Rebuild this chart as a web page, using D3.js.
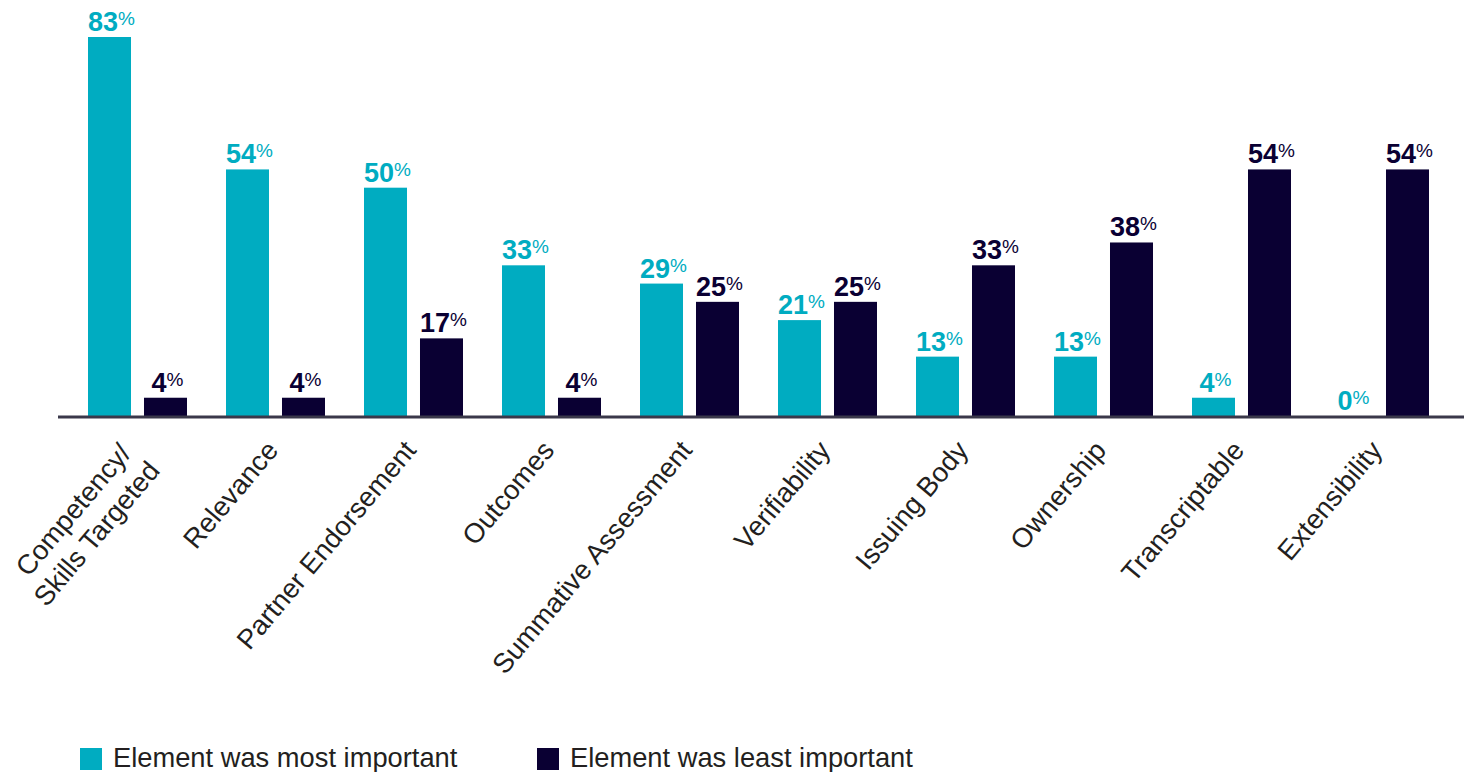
<!DOCTYPE html>
<html>
<head>
<meta charset="utf-8">
<script src="https://cdn.jsdelivr.net/npm/d3@7"></script>
<style>
  body { margin: 0; background: #fff; }
  text { font-family: "Liberation Sans", Arial, Helvetica, sans-serif; }
</style>
</head>
<body>
<div id="chart"></div>
<script>
const categories = [
  ["Competency/", "Skills Targeted"],
  ["Relevance"],
  ["Partner Endorsement"],
  ["Outcomes"],
  ["Summative Assessment"],
  ["Verifiability"],
  ["Issuing Body"],
  ["Ownership"],
  ["Transcriptable"],
  ["Extensibility"]
];
const mostImportant = [83, 54, 50, 33, 29, 21, 13, 13, 4, 0];
const leastImportant = [4, 4, 17, 4, 25, 25, 33, 38, 54, 54];
const seriesNames = ["Element was most important", "Element was least important"];

const W = 1468, H = 772;
const teal = "#00acc1", navy = "#0a0033";

const svg = d3.select("#chart").append("svg")
    .attr("width", W)
    .attr("height", H);

const keys = categories.map(c => c.join(" "));
const rows = keys.map((k, i) => ({ key: k, vals: [mostImportant[i], leastImportant[i]] }));

const x0 = d3.scaleBand()
    .domain(keys)
    .range([68.5, 1448.5]);

const x1 = d3.scaleBand()
    .domain([0, 1])
    .range([19.5, 118.5])
    .paddingInner(0.232);

const y = d3.scaleLinear()
    .domain([0, 83])
    .range([416, 37]);

const colors = [teal, navy];

// bars
const groups = svg.selectAll("g.grp")
    .data(rows)
    .join("g")
    .attr("class", "grp")
    .attr("transform", d => `translate(${x0(d.key)},0)`);

groups.selectAll("rect")
    .data(d => d.vals)
    .join("rect")
    .attr("x", (d, i) => x1(i))
    .attr("width", x1.bandwidth())
    .attr("y", d => y(d))
    .attr("height", d => y(0) - y(d))
    .attr("fill", (d, i) => colors[i]);

// value labels
const lbl = groups.selectAll("text.val")
    .data(d => d.vals)
    .join("text")
    .attr("class", "val")
    .attr("x", (d, i) => x1(i) + x1.bandwidth() / 2 + 2)
    .attr("y", d => y(d) - 6)
    .attr("text-anchor", "middle")
    .attr("fill", (d, i) => colors[i]);
lbl.append("tspan")
    .attr("font-size", 27)
    .attr("font-weight", "bold")
    .text(d => d);
lbl.append("tspan")
    .attr("font-size", 19)
    .attr("dy", -6)
    .text("%");

// axis line
svg.append("line")
    .attr("x1", 58).attr("x2", 1464)
    .attr("y1", 417).attr("y2", 417)
    .attr("stroke", "#3a384a")
    .attr("stroke-width", 3);

// category labels
categories.forEach((lines, i) => {
    const cx = x0(keys[i]) + x0.bandwidth() / 2;
    const t = svg.append("text")
        .attr("transform", `translate(${cx + 4},451) rotate(-50)`)
        .attr("text-anchor", "end")
        .attr("font-size", 27.5)
        .attr("fill", "#231f20");
    if (lines.length === 1) {
        t.append("tspan").attr("x", 0).attr("y", 0).text(lines[0]);
    } else {
        t.append("tspan").attr("x", -8).attr("y", -5).text(lines[0]);
        t.append("tspan").attr("x", -3).attr("y", 28).text(lines[1]);
    }
});

// legend
const legX = [80, 537];
seriesNames.forEach((name, i) => {
    svg.append("rect")
        .attr("x", legX[i]).attr("y", 748)
        .attr("width", 22).attr("height", 22)
        .attr("fill", colors[i]);
    svg.append("text")
        .attr("x", legX[i] + 33).attr("y", 767)
        .attr("font-size", 27.3)
        .attr("fill", "#231f20")
        .text(name);
});
</script>
</body>
</html>
